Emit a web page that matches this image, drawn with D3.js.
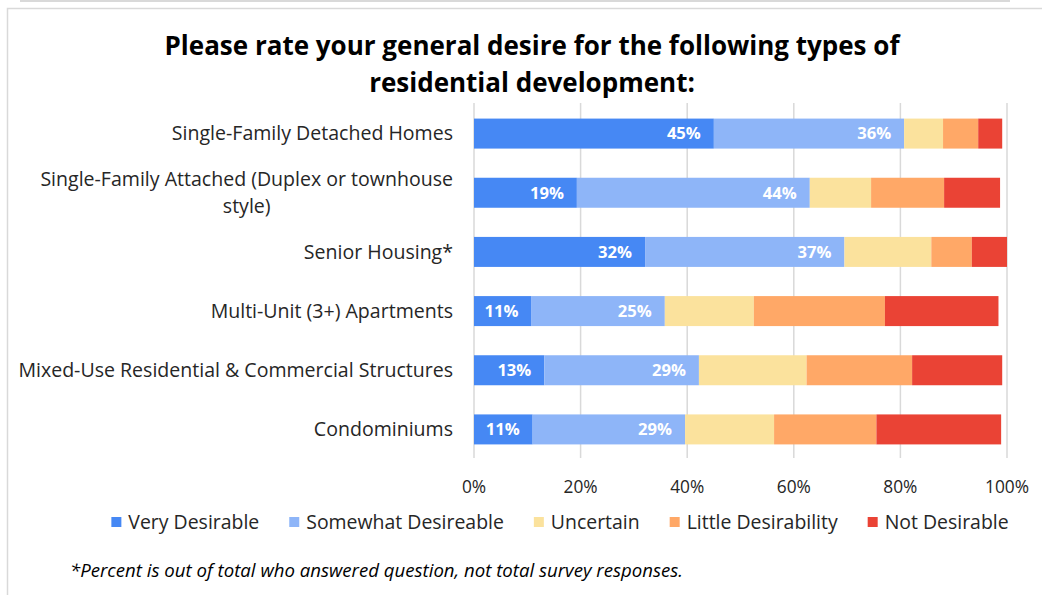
<!DOCTYPE html>
<html lang="en">

<head>
    <meta charset="UTF-8">
    <title>Residential development desire</title>
    <script src="https://d3js.org/d3.v7.min.js"></script>
    <style>
        body {
            margin: 0;
            background-color: #fff;
            overflow: hidden;
        }

        text {
            font-family: "Open Sans", "Noto Sans", sans-serif;
            fill: #262626;
        }
    </style>
</head>

<body>
    <script>
        // Categories, top to bottom
        const categories = [
            "Single-Family Detached Homes",
            "Single-Family Attached (Duplex or townhouse style)",
            "Senior Housing*",
            "Multi-Unit (3+) Apartments",
            "Mixed-Use Residential & Commercial Structures",
            "Condominiums"
        ];

        // Series names and values (percent of respondents), one value per category
        const seriesNames = ["Very Desirable", "Somewhat Desireable", "Uncertain", "Little Desirability", "Not Desirable"];
        const veryDesirable = [45.0, 19.3, 32.1, 10.8, 13.2, 11.0];
        const somewhatDesirable = [35.7, 43.7, 37.4, 25.0, 29.0, 28.6];
        const uncertain = [7.3, 11.5, 16.3, 16.7, 20.2, 16.7];
        const littleDesirability = [6.6, 13.7, 7.6, 24.6, 19.8, 19.2];
        const notDesirable = [4.5, 10.5, 6.6, 21.3, 16.9, 23.4];

        const seriesColors = ["#4688f4", "#8eb5f8", "#fbe29d", "#ffa867", "#ea4335"];
        const labelledSeries = ["Very Desirable", "Somewhat Desireable"];

        const xTicks = [0, 20, 40, 60, 80, 100];

        const titleLines = ["Please rate your general desire for the following types of", "residential development:"];
        const footnote = "*Percent is out of total who answered question, not total survey responses.";

        // Build table for d3.stack
        const allSeries = [veryDesirable, somewhatDesirable, uncertain, littleDesirability, notDesirable];
        const table = categories.map((c, i) => {
            const row = { category: c };
            seriesNames.forEach((s, j) => row[s] = allSeries[j][i]);
            return row;
        });

        const width = 1042;
        const height = 595;

        const svg = d3.select("body").append("svg").attr("width", width).attr("height", height);

        // Pick a font size so that a sample string gets the width it has in the original (Calibri isn't installed)
        function fitSize(sample, target, weight, style) {
            const probe = svg.append("text")
                .attr("font-size", "100px")
                .attr("font-weight", weight || "normal")
                .attr("font-style", style || "normal")
                .text(sample);
            const w = probe.node().getComputedTextLength();
            probe.remove();
            return 100 * target / w;
        }

        const titleSize = fitSize(titleLines[0], 735, "bold");
        const catSize = fitSize("Mixed-Use Residential & Commercial Structures", 435);
        const tickSize = fitSize("100%", 44);
        const legendSize = fitSize("Very Desirable", 131);
        const noteSize = fitSize(footnote, 613, "normal", "italic");
        const valueSize = fitSize("45%", 34, "bold");

        // Outer frames
        svg.append("line")
            .attr("x1", 20).attr("x2", 1010).attr("y1", 1).attr("y2", 1)
            .attr("stroke", "#d9d9d9").attr("stroke-width", 2);
        svg.append("path")
            .attr("d", "M1042,8.5H7.5V595")
            .attr("fill", "none")
            .attr("stroke", "#d9d9d9").attr("stroke-width", 1.5);

        // Title
        svg.append("g").selectAll("text")
            .data(titleLines)
            .join("text")
            .attr("x", 532)
            .attr("y", (d, i) => 55 + i * 37)
            .attr("text-anchor", "middle")
            .attr("font-size", titleSize + "px")
            .attr("font-weight", "bold")
            .style("fill", "#000")
            .text(d => d);

        // Scales
        const x = d3.scaleLinear().domain([0, 100]).range([474, 1007]);
        const y = d3.scaleBand().domain(categories).range([104, 459]).paddingInner(0.493).paddingOuter(0.2465);
        const color = d3.scaleOrdinal().domain(seriesNames).range(seriesColors);

        // Gridlines
        svg.append("g").selectAll("line")
            .data(xTicks)
            .join("line")
            .attr("x1", d => x(d)).attr("x2", d => x(d))
            .attr("y1", 103).attr("y2", 458)
            .attr("stroke", "#d9d9d9").attr("stroke-width", 1.5);

        // Stacked bars
        const stacked = d3.stack().keys(seriesNames)(table);

        const layers = svg.append("g").selectAll("g")
            .data(stacked)
            .join("g")
            .attr("fill", d => color(d.key));

        layers.selectAll("rect")
            .data(d => d)
            .join("rect")
            .attr("x", d => x(d[0]))
            .attr("y", d => y(d.data.category))
            .attr("width", d => x(d[1]) - x(d[0]))
            .attr("height", y.bandwidth());

        // Data labels (inside end) for the first two series
        const fmt = d3.format(".0f");
        svg.append("g").selectAll("g")
            .data(stacked.filter(s => labelledSeries.includes(s.key)))
            .join("g")
            .selectAll("text")
            .data(d => d.map(v => ({ v, key: d.key })))
            .join("text")
            .attr("x", d => x(d.v[1]) - 13)
            .attr("y", d => y(d.v.data.category) + y.bandwidth() / 2)
            .attr("dy", "0.35em")
            .attr("text-anchor", "end")
            .attr("font-size", valueSize + "px")
            .attr("font-weight", "bold")
            .style("fill", "#fff")
            .text(d => fmt(d.v.data[d.key]) + "%");

        // Category labels, wrapped like Excel (lines centred in the block)
        const labelRight = 453;
        const maxLabelWidth = 440;
        const labelG = svg.append("g");
        categories.forEach(c => {
            const t = labelG.append("text")
                .attr("font-size", catSize + "px")
                .attr("text-anchor", "middle");
            // wrap words
            const words = c.split(" ");
            const lines = [];
            let line = [];
            const probe = labelG.append("text").attr("font-size", catSize + "px");
            words.forEach(w => {
                const trial = line.concat([w]).join(" ");
                probe.text(trial);
                if (probe.node().getComputedTextLength() > maxLabelWidth && line.length) {
                    lines.push(line.join(" "));
                    line = [w];
                } else {
                    line.push(w);
                }
            });
            lines.push(line.join(" "));
            const widths = lines.map(l => { probe.text(l); return probe.node().getComputedTextLength(); });
            probe.remove();
            const blockW = d3.max(widths);
            const cx = labelRight - blockW / 2;
            const cy = y(c) + y.bandwidth() / 2;
            const lh = 27;
            lines.forEach((l, i) => {
                t.append("tspan")
                    .attr("x", cx)
                    .attr("y", cy + (i - (lines.length - 1) / 2) * lh)
                    .attr("dy", "0.35em")
                    .text(l);
            });
        });

        // X axis tick labels
        svg.append("g").selectAll("text")
            .data(xTicks)
            .join("text")
            .attr("x", d => x(d))
            .attr("y", 487)
            .attr("dy", "0.35em")
            .attr("text-anchor", "middle")
            .attr("font-size", tickSize + "px")
            .text(d => d + "%");

        // Legend
        const legend = svg.append("g");
        const items = legend.selectAll("g")
            .data(seriesNames)
            .join("g");
        items.append("rect")
            .attr("width", 10).attr("height", 10)
            .attr("y", 517)
            .attr("fill", d => color(d));
        items.append("text")
            .attr("x", 17)
            .attr("y", 522)
            .attr("dy", "0.35em")
            .attr("font-size", legendSize + "px")
            .text(d => d);
        let lx = 0;
        const offsets = [];
        items.each(function () {
            offsets.push(lx);
            const w = d3.select(this).select("text").node().getComputedTextLength();
            lx += 17 + w + 30;
        });
        const legendW = lx - 30;
        const legendStart = 560 - legendW / 2;
        items.attr("transform", (d, i) => `translate(${legendStart + offsets[i]},0)`);

        // Footnote
        svg.append("text")
            .attr("x", 70)
            .attr("y", 570)
            .attr("dy", "0.35em")
            .attr("font-size", noteSize + "px")
            .attr("font-style", "italic")
            .style("fill", "#000")
            .text(footnote);
    </script>
</body>

</html>
